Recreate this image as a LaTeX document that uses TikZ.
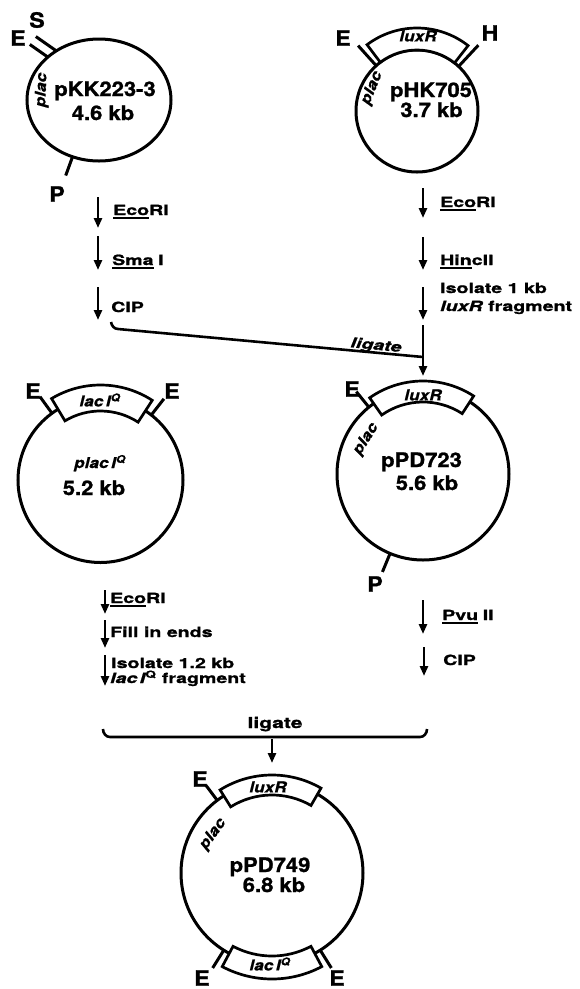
\documentclass[tikz,border=0pt]{standalone}
\usepackage{fontspec}
\setmainfont{TeX Gyre Heros}
\newfontfamily\stepf[Extension=.otf,UprightFont=*-bold,ItalicFont=*-bolditalic,BoldFont=*-bold,BoldItalicFont=*-bolditalic,FakeStretch=1.4,FakeBold=1.2]{texgyreheros}
\newfontfamily\namef[Extension=.otf,UprightFont=*-bold,ItalicFont=*-bolditalic,BoldFont=*-bold,BoldItalicFont=*-bolditalic,FakeStretch=1.1,FakeBold=1.2]{texgyreheros}
\newfontfamily\boxf[Extension=.otf,UprightFont=*-bold,ItalicFont=*-bolditalic,BoldFont=*-bold,BoldItalicFont=*-bolditalic,FakeStretch=1.15,FakeBold=0.6]{texgyreheros}
\usetikzlibrary{arrows.meta,shapes.geometric}
\newcommand\ulx[1]{\setbox0=\hbox{#1}\rlap{\rule[-3.5pt]{\wd0}{1.8pt}}\box0}
\begin{document}
\begin{tikzpicture}[x=1pt,y=1pt,
  stp/.style={font=\stepf\fontsize{14}{16}\selectfont, inner sep=0, anchor=base west},
  nm/.style={font=\namef\fontsize{20}{22}\selectfont, inner sep=0, anchor=base},
  site/.style={font=\namef\fontsize{21}{22}\selectfont, inner sep=0},
  bx/.style={font=\boxf\itshape\fontsize{15}{16}\selectfont, inner sep=0},
  ring/.style={draw, circle, line width=3pt, outer sep=0, inner sep=0},
  tk/.style={line width=3pt},
  arr/.style={line width=2.6pt, -{Triangle[length=10pt,width=8pt]}},
  gbox/.style={draw, fill=white, line width=2.7pt},
  brace/.style={line width=2.6pt}]

\fill[white] (0,0) rectangle (579,-989);
\useasboundingbox (0,0) rectangle (579,-989);

% ---------------- pKK223-3 ----------------
\node[ring, ellipse, minimum width=144pt, minimum height=122pt] (p1) at (99,-100) {};
\draw[tk] (p1.140) -- ++(145:22pt);
\draw[tk] (p1.131) -- ++(145:25pt);
\draw[tk] (p1.-115) -- ++(-110:20pt);
\node[site] (e1) at (18,-38) {E};
\node[site] (s1) at (37,-20) {S};
\node[site] (pp1) at (57,-194) {P};
\node[nm] (n1) at (105,-96) {pKK223-3};
\node[nm] (k1) at (103,-120) {4.6 kb};
\node[bx, rotate=88] (pl1) at (42,-90) {plac};

% steps left
\coordinate (a1s) at (98,-197); \coordinate (a1e) at (98,-228);
\coordinate (a2s) at (98,-236); \coordinate (a2e) at (98,-270);
\coordinate (a3s) at (98,-287); \coordinate (a3e) at (98,-320);
\draw[arr] (a1s) -- (a1e);
\draw[arr] (a2s) -- (a2e);
\draw[arr] (a3s) -- (a3e);
\node[stp] (t1) at (113,-215) {\ulx{Eco}RI};
\node[stp] (t2) at (112,-265) {\ulx{Sma}\,\,I};
\node[stp] (t3) at (111,-312) {CIP};

% ---------------- pHK705 ----------------
\node[ring, minimum size=122pt] (p2) at (417,-111) {};
\begin{scope}[shift={(417,-111)}]
  \draw[gbox] (52:61pt) arc[start angle=52,end angle=127,radius=61pt] -- (127:83pt)
     arc[start angle=127,end angle=52,radius=83pt] -- cycle;
  \draw[tk] (132:61pt) -- (132:88pt);
  \draw[tk] (47:61pt) -- (47:90pt);
\end{scope}
\node[site] (e2) at (343,-38) {E};
\node[site] (h2) at (490,-33) {H};
\node[bx] (lx2) at (418,-36) {luxR};
\node[nm] (n2) at (431,-97) {pHK705};
\node[nm] (k2) at (431.5,-117) {3.7 kb};
\node[bx, rotate=68] (pl2) at (372,-88) {plac};

% steps right
\coordinate (b1s) at (423,-188); \coordinate (b1e) at (423,-218);
\coordinate (b2s) at (423,-237); \coordinate (b2e) at (423,-270);
\coordinate (b3s) at (423,-287); \coordinate (b3e) at (423,-320);
\draw[arr] (b1s) -- (b1e);
\draw[arr] (b2s) -- (b2e);
\draw[arr] (b3s) -- (b3e);
\node[stp] (u1) at (440,-207) {\ulx{Eco}RI};
\node[stp] (u2) at (440,-265) {\ulx{Hin}cII};
\node[stp] (u3) at (440,-293) {Isolate 1 kb};
\node[stp] (u4) at (440,-311) {{\itshape luxR} fragment};

% first ligation
\coordinate (lg0) at (111,-322);
\coordinate (lg1) at (118,-329);
\coordinate (lgj) at (423,-357);
\coordinate (lgt) at (423,-325);
\coordinate (lgb) at (423,-376);
\draw[brace] (lg0) to[out=-80,in=178] (lg1) -- (lgj);
\draw[arr] (lgt) -- (lgb);
\node[font=\stepf\itshape\fontsize{14}{16}\selectfont, inner sep=0, rotate=-5.5] (lig1) at (376,-346) {ligate};

% ---------------- placIQ ----------------
\node[ring, minimum size=165pt] (p3) at (100.5,-480) {};
\begin{scope}[shift={(100.5,-480)}]
  \draw[gbox] (57:69pt) arc[start angle=57,end angle=121,radius=69pt] -- (121:95pt)
     arc[start angle=121,end angle=57,radius=95pt] -- cycle;
  \draw[tk] (126:82.5pt) -- (126:103pt);
  \draw[tk] (52:82.5pt) -- (52:103pt);
\end{scope}
\node[site] (e3a) at (33,-391) {E};
\node[site] (e3b) at (172,-391) {E};
\node[bx] (lq3) at (100,-400) {lac\,I\textsuperscript{Q}};
\node[bx, anchor=base] (n3) at (100,-468) {plac\,I\textsuperscript{Q}};
\node[nm] (k3) at (94,-495) {5.2 kb};

% steps lower left
\coordinate (c1s) at (105,-590); \coordinate (c1e) at (105,-614);
\coordinate (c2s) at (105,-620); \coordinate (c2e) at (105,-648);
\coordinate (c3s) at (105,-655); \coordinate (c3e) at (105,-686);
\draw[arr] (c1s) -- (c1e);
\draw[arr] (c2s) -- (c2e);
\draw[arr] (c3s) -- (c3e);
\node[stp] (v1) at (110,-603) {\ulx{Eco}RI};
\node[stp] (v2) at (110,-637) {Fill in ends};
\node[stp] (v3) at (111,-668) {Isolate 1.2 kb};
\node[stp] (v4) at (110,-683) {{\itshape lac\,I}\textsuperscript{Q} fragment};

% ---------------- pPD723 ----------------
\node[ring, minimum size=172pt] (p4) at (423,-474) {};
\begin{scope}[shift={(423,-474)}]
  \draw[gbox] (57:72pt) arc[start angle=57,end angle=125,radius=72pt] -- (125:93pt)
     arc[start angle=125,end angle=57,radius=93pt] -- cycle;
  \draw[tk] (129:86pt) -- (129:106pt);
  \draw[tk] (-112.5:86pt) -- (-112.5:106pt);
\end{scope}
\node[site] (e4) at (352,-389) {E};
\node[site] (pp4) at (375,-584) {P};
\node[bx] (lx4) at (423,-395) {luxR};
\node[bx, rotate=58] (pl4) at (366,-439) {plac};
\node[nm] (n4) at (421.5,-467) {pPD723};
\node[nm] (k4) at (427,-490) {5.6 kb};

% steps lower right
\coordinate (d1s) at (423,-600); \coordinate (d1e) at (423,-634);
\coordinate (d2s) at (424,-647); \coordinate (d2e) at (424,-676);
\draw[arr] (d1s) -- (d1e);
\draw[arr] (d2s) -- (d2e);
\node[stp] (w1) at (442,-620) {\ulx{Pvu}\,\,II};
\node[stp] (w2) at (443,-665) {CIP};

% second ligation
\coordinate (br0) at (103,-729);
\coordinate (br1) at (110,-737);
\coordinate (br2) at (420,-737);
\coordinate (br3) at (427,-729);
\coordinate (bra) at (272,-739);
\coordinate (brb) at (272,-763);
\draw[brace] (br0) to[out=-90,in=180] (br1) -- (br2) to[out=0,in=-90] (br3);
\draw[arr] (bra) -- (brb);
\node[font=\stepf\fontsize{15}{16}\selectfont, inner sep=0, anchor=base] (lig2) at (275,-728) {ligate};

% ---------------- pPD749 ----------------
\node[ring, minimum size=182pt] (p5) at (272,-873) {};
\begin{scope}[shift={(272,-873)}]
  \draw[gbox] (60:78pt) arc[start angle=60,end angle=122,radius=78pt] -- (122:98pt)
     arc[start angle=122,end angle=60,radius=98pt] -- cycle;
  \draw[tk] (127:91pt) -- (127:110pt);
  \draw[gbox] (-118:83pt) arc[start angle=-118,end angle=-62,radius=83pt] -- (-62:106pt)
     arc[start angle=-62,end angle=-118,radius=106pt] -- cycle;
  \draw[tk] (-122:91pt) -- (-122:112pt);
  \draw[tk] (-58:91pt) -- (-58:112pt);
\end{scope}
\node[site] (e5) at (200,-779) {E};
\node[site] (e5a) at (202,-978) {E};
\node[site] (e5b) at (337,-978) {E};
\node[bx] (lx5) at (268,-787) {luxR};
\node[bx] (lq5) at (270,-964) {lac\,I\textsuperscript{Q}};
\node[bx, rotate=54] (pl5) at (213,-834) {plac};
\node[nm] (n5) at (270,-872) {pPD749};
\node[nm] (k5) at (274,-892) {6.8 kb};
\end{tikzpicture}
\end{document}
